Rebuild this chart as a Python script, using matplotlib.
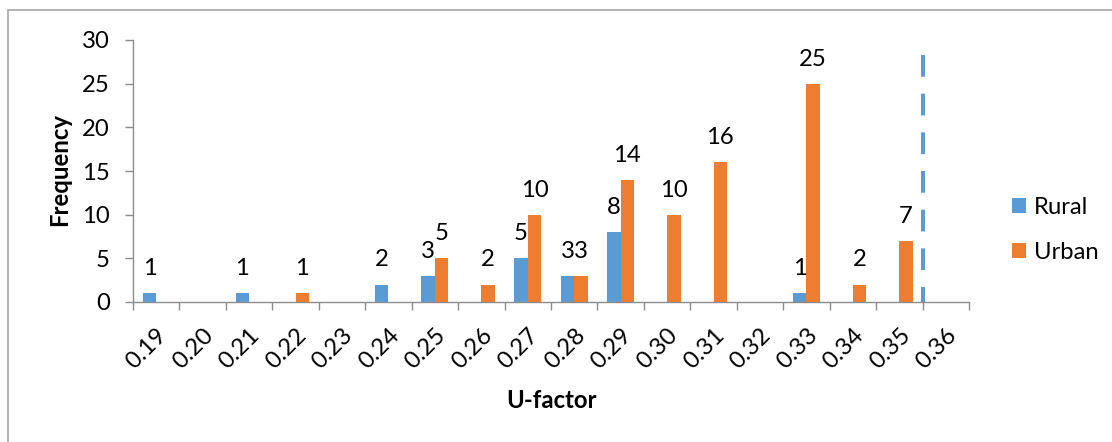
import matplotlib.pyplot as plt
import numpy as np
from matplotlib.patches import Rectangle

plt.rcParams['font.family'] = ['Lato', 'DejaVu Sans']

# U-factor classes and counts per area
u_factor = ['0.19', '0.20', '0.21', '0.22', '0.23', '0.24', '0.25', '0.26', '0.27',
            '0.28', '0.29', '0.30', '0.31', '0.32', '0.33', '0.34', '0.35', '0.36']
rural = [1, 0, 1, 0, 0, 2, 3, 0, 5, 3, 8, 0, 0, 0, 1, 0, 0, 0]
urban = [0, 0, 0, 1, 0, 0, 5, 2, 10, 3, 14, 10, 16, 0, 25, 2, 7, 0]

# limit line drawn between the last two classes
limit_pos = 16.5
limit_top = 28.3

blue = '#5B9BD5'
orange = '#ED7D31'
axis_grey = '#8c8c8c'
fs = 17.2

fig = plt.figure(figsize=(11.12, 4.42), dpi=100)
ax = fig.add_axes([133/1112, 1-302/442, (969-133)/1112, (302-40)/442])

x = np.arange(len(u_factor))
w = 0.29
b1 = ax.bar(x - w/2, rural, w, color=blue, label='Rural')
b2 = ax.bar(x + w/2, urban, w, color=orange, label='Urban')

# value labels only for non-empty classes
for bars, vals in ((b1, rural), (b2, urban)):
    for r, v in zip(bars, vals):
        if v > 0:
            ax.annotate(str(v), (r.get_x() + r.get_width()/2, v),
                        xytext=(0, 13), textcoords='offset points',
                        ha='center', va='baseline', fontsize=fs)

ax.plot([limit_pos, limit_pos], [limit_top, 0], color=blue, lw=2.9,
        dashes=(5.4, 4.2), solid_capstyle='butt', dash_capstyle='butt')

ax.set_xlim(-0.5, len(u_factor) - 0.5)
ax.set_ylim(0, 30)
ax.set_yticks(range(0, 31, 5))

ax.set_xticks(x)
ax.set_xticklabels(u_factor, rotation=45, ha='right', rotation_mode='anchor')
ax.set_xticks(np.arange(-0.5, len(u_factor)), minor=True)
ax.tick_params(axis='x', which='major', length=0, pad=16, labelsize=fs)
ax.tick_params(axis='x', which='minor', length=5.8, width=1, color=axis_grey)
ax.tick_params(axis='y', length=5.8, width=1, color=axis_grey, pad=11, labelsize=fs)

for s in ('top', 'right'):
    ax.spines[s].set_visible(False)
for s in ('left', 'bottom'):
    ax.spines[s].set_color(axis_grey)
    ax.spines[s].set_linewidth(1)

fig.text(60/1112, 1-170/442, 'Frequency', rotation=90, ha='center', va='center',
         fontsize=fs, fontweight='bold')
fig.text(552/1112, 1-400/442, 'U-factor', ha='center', va='center',
         fontsize=fs, fontweight='bold')

fig.legend(handles=[b1, b2], loc='center left', bbox_to_anchor=(990/1112, 1-230/442),
           frameon=False, fontsize=fs, handlelength=0.6, handleheight=0.6,
           handletextpad=0.35, labelspacing=1.0)

# outer chart frame
fig.patches.append(Rectangle((8/1112, -0.1), 1.2, 1-10/442 + 0.1,
                             transform=fig.transFigure, fill=False,
                             edgecolor='#a6a6a6', lw=1.2))

fig.savefig('out.png', dpi=100)
